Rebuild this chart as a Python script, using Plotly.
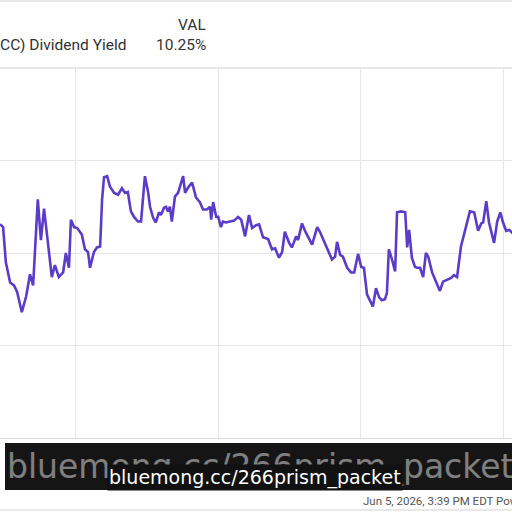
import plotly.graph_objects as go

dates = [
    "2022-06-20", "2022-06-28", "2022-07-05", "2022-07-16", "2022-07-26", "2022-08-03", "2022-08-15", "2022-08-26",
    "2022-09-05", "2022-09-13", "2022-09-25", "2022-10-03", "2022-10-11", "2022-10-21", "2022-10-31", "2022-11-08",
    "2022-11-18", "2022-11-29", "2022-12-06", "2022-12-14", "2022-12-19", "2022-12-27", "2023-01-04", "2023-01-16",
    "2023-01-24", "2023-02-01", "2023-02-06", "2023-02-16", "2023-02-24", "2023-03-04", "2023-03-09", "2023-03-14",
    "2023-03-22", "2023-03-29", "2023-04-09", "2023-04-19", "2023-04-29", "2023-05-07", "2023-05-14", "2023-05-22",
    "2023-05-30", "2023-06-09", "2023-06-17", "2023-06-25", "2023-06-27", "2023-07-05", "2023-07-10", "2023-07-18",
    "2023-07-25", "2023-08-02", "2023-08-07", "2023-08-15", "2023-08-20", "2023-08-25", "2023-08-30", "2023-09-04",
    "2023-09-12", "2023-09-20", "2023-10-03", "2023-10-08", "2023-10-16", "2023-10-26", "2023-11-05", "2023-11-15",
    "2023-11-23", "2023-12-03", "2023-12-11", "2023-12-14", "2023-12-19", "2023-12-27", "2024-01-01", "2024-01-08",
    "2024-01-13", "2024-01-21", "2024-01-31", "2024-02-11", "2024-02-21", "2024-02-29", "2024-03-10", "2024-03-20",
    "2024-03-28", "2024-04-07", "2024-04-15", "2024-04-25", "2024-05-08", "2024-05-18", "2024-05-26", "2024-06-05",
    "2024-06-13", "2024-06-20", "2024-07-01", "2024-07-08", "2024-07-19", "2024-07-24", "2024-08-03", "2024-08-13",
    "2024-08-29", "2024-09-11", "2024-09-18", "2024-09-29", "2024-10-06", "2024-10-19", "2024-10-27", "2024-11-01",
    "2024-11-09", "2024-11-16", "2024-11-27", "2024-12-07", "2024-12-15", "2024-12-20", "2024-12-25", "2025-01-02",
    "2025-01-09", "2025-01-17", "2025-01-25", "2025-02-01", "2025-02-09", "2025-02-17", "2025-02-24", "2025-03-04",
    "2025-03-09", "2025-03-14", "2025-03-22", "2025-03-30", "2025-04-04", "2025-04-14", "2025-04-25", "2025-04-30",
    "2025-05-05", "2025-05-12", "2025-05-20", "2025-05-25", "2025-06-02", "2025-06-10", "2025-06-17", "2025-06-23",
    "2025-07-03", "2025-07-13", "2025-07-23", "2025-07-31", "2025-08-10", "2025-08-21", "2025-08-28", "2025-09-05",
    "2025-09-15", "2025-09-23", "2025-10-01", "2025-10-08", "2025-10-19", "2025-10-29", "2025-11-06", "2025-11-11",
    "2025-11-19", "2025-11-26", "2025-12-09", "2025-12-17", "2025-12-25", "2026-01-01", "2026-01-09", "2026-01-17",
    "2026-01-24", "2026-02-05",
]
yield_pct = [
    10.31, 10.28, 9.90, 9.68, 9.65, 9.58, 9.36, 9.53,
    9.77, 9.65, 10.58, 10.14, 10.48, 10.14, 9.74, 9.87,
    9.74, 9.79, 10.00, 9.84, 10.36, 10.28, 10.27, 10.20,
    10.04, 10.01, 9.84, 10.01, 10.06, 10.07, 10.58, 10.82,
    10.83, 10.72, 10.65, 10.63, 10.70, 10.65, 10.66, 10.45,
    10.39, 10.34, 10.34, 10.74, 10.83, 10.66, 10.50, 10.38,
    10.33, 10.44, 10.41, 10.49, 10.50, 10.45, 10.50, 10.34,
    10.61, 10.65, 10.83, 10.65, 10.71, 10.76, 10.60, 10.55,
    10.47, 10.47, 10.50, 10.36, 10.55, 10.39, 10.39, 10.28,
    10.34, 10.33, 10.34, 10.35, 10.39, 10.36, 10.18, 10.41,
    10.27, 10.30, 10.31, 10.17, 10.15, 10.04, 10.05, 9.95,
    10.01, 10.23, 10.11, 10.06, 10.18, 10.14, 10.32, 10.22,
    10.09, 10.28, 10.23, 10.12, 10.06, 9.93, 9.96, 10.12,
    9.98, 9.96, 9.84, 9.79, 9.79, 9.90, 9.99, 9.85,
    9.84, 9.55, 9.47, 9.42, 9.62, 9.52, 9.49, 9.50,
    9.57, 10.04, 9.93, 9.80, 10.44, 10.45, 10.44, 10.06,
    10.25, 9.95, 9.85, 9.84, 9.84, 9.74, 10.00, 9.96,
    9.79, 9.69, 9.59, 9.69, 9.71, 9.73, 9.76, 9.74,
    10.07, 10.20, 10.34, 10.45, 10.44, 10.24, 10.32, 10.33,
    10.56, 10.33, 10.11, 10.34, 10.44, 10.33, 10.24, 10.25,
    10.22, 10.25,
]
series_name = "Ares Capital Corp (ARCC) Dividend Yield"
latest_value = "10.25%"
x_window = ["2022-06-20", "2026-01-24"]
y_window = [8, 12]
y_ticks = [8, 9, 10, 11, 12]
x_ticks = ["2023-01-01", "2024-01-01", "2025-01-01", "2026-01-01"]
overlay_text = "bluemong.cc/266prism_packet"
footer_text = "Jun 5, 2026, 3:39 PM EDT Powered by YCHARTS"

W, H = 512, 512
MT, MB = 68, 74
PLOT_H = H - MT - MB


def py(pixel_y):
    # convert a pixel row (from top of the figure) to paper coordinates
    return (H - MB - pixel_y) / PLOT_H


def px(pixel_x):
    return pixel_x / W


fig = go.Figure()
fig.add_trace(go.Scatter(
    x=dates, y=yield_pct, mode="lines",
    line=dict(color="#5B3CC8", width=2.6),
    showlegend=False, hoverinfo="skip",
))

grid = "#E6E6EA"
fig.update_layout(
    width=W, height=H,
    margin=dict(l=0, r=0, t=MT, b=MB),
    paper_bgcolor="white", plot_bgcolor="white",
    font=dict(family="Roboto", color="#333333"),
    xaxis=dict(range=x_window, tickvals=x_ticks, showticklabels=False,
               showgrid=True, gridcolor=grid, gridwidth=1, zeroline=False,
               showline=True, linecolor="#DADADA", linewidth=1, ticks=""),
    yaxis=dict(range=y_window, tickvals=y_ticks, showticklabels=False,
               showgrid=True, gridcolor=grid, gridwidth=1, zeroline=False, ticks=""),
)

for row in (1, 68, 510):
    fig.add_shape(type="line", xref="paper", yref="paper", x0=0, x1=1, y0=py(row), y1=py(row),
                  line=dict(color="#E0E0E0", width=1.5))

hdr_font = dict(size=15.5, color="#333333", family="Roboto")
fig.add_annotation(text="VAL", xref="paper", yref="paper", x=px(208), y=py(25),
                   xanchor="right", yanchor="middle", showarrow=False, font=hdr_font)
fig.add_annotation(text=series_name, xref="paper", yref="paper", x=px(128), y=py(45),
                   xanchor="right", yanchor="middle", showarrow=False, font=hdr_font)
fig.add_annotation(text=latest_value, xref="paper", yref="paper", x=px(208), y=py(45),
                   xanchor="right", yanchor="middle", showarrow=False, font=hdr_font)

# overlay band across the x-axis labels
fig.add_shape(type="rect", xref="paper", yref="paper", x0=px(5), x1=1, y0=py(490), y1=py(443),
              fillcolor="#151515", line=dict(width=0), layer="above")
fig.add_annotation(text=overlay_text, xref="paper", yref="paper", x=px(5), y=py(466),
                   xanchor="left", yanchor="middle", showarrow=False, opacity=0.45,
                   font=dict(size=33, color="white", family="DejaVu Sans"))
fig.add_annotation(text=overlay_text, xref="paper", yref="paper", x=px(255), y=py(477),
                   xanchor="center", yanchor="middle", showarrow=False,
                   bgcolor="#111111",
                   font=dict(size=19, color="white", family="DejaVu Sans"))

fig.add_annotation(text=footer_text, xref="paper", yref="paper",
                   x=px(361), y=py(501), xanchor="left", yanchor="middle", showarrow=False,
                   font=dict(size=11.5, color="#555555", family="Roboto"))

fig.write_html("out.html")
